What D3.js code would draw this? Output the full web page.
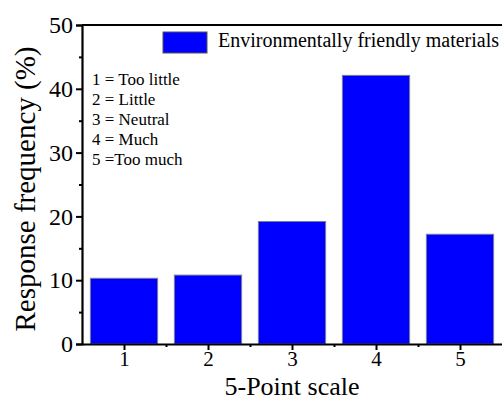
<!DOCTYPE html>
<meta charset="utf-8">
<script src="https://d3js.org/d3.v7.min.js"></script>
<style>
  body { margin: 0; background: #fff; }
  svg text { font-family: "Liberation Serif", Tinos, "DejaVu Serif", serif; fill: #000; }
</style>
<div id="my_dataviz"></div>
<script>

// data
var categories = [1, 2, 3, 4, 5];
var values = [10.3, 10.8, 19.2, 42.1, 17.2];
var yTicks = [0, 10, 20, 30, 40, 50];
var seriesName = "Environmentally friendly materials";
var notes = ["1 = Too little", "2 = Little", "3 = Neutral", "4 = Much", "5 =Too much"];

var serif = "'Liberation Serif', Tinos, 'DejaVu Serif', serif";

var margin = {top: 25, right: 0, bottom: 56, left: 82},
    width = 502 - margin.left - margin.right,
    height = 400 - margin.top - margin.bottom;

var svg = d3.select("#my_dataviz")
  .append("svg")
    .attr("width", 502)
    .attr("height", 400)
  .append("g")
    .attr("transform", "translate(" + margin.left + "," + margin.top + ")");

var x = d3.scaleLinear().domain([0.5, 5.5]).range([0, width]);
var y = d3.scaleLinear().domain([0, 50]).range([height, 0]);
var step = x(2) - x(1);
var barW = step * 0.8;

// bars
svg.selectAll("rect.bar")
  .data(values)
  .enter()
  .append("rect")
    .attr("class", "bar")
    .attr("x", function(d, i) { return x(categories[i]) - barW / 2; })
    .attr("y", function(d) { return y(d); })
    .attr("width", barW)
    .attr("height", function(d) { return height - y(d); })
    .attr("fill", "#0000ff")
    .attr("stroke", "#7a7a9a")
    .attr("stroke-width", 1);

// Y axis
var yAxis = svg.append("g")
  .call(d3.axisLeft(y).tickValues(yTicks).tickSize(6).tickPadding(3).tickFormat(d3.format("d")));
yAxis.attr("font-family", null);
yAxis.select(".domain").attr("stroke-width", 2.2);
yAxis.selectAll(".tick line").attr("stroke-width", 2);
yAxis.selectAll("text").style("font-size", "24px").style("font-family", serif);
svg.append("g")
  .call(d3.axisLeft(y).tickValues([5, 15, 25, 35, 45]).tickSize(3).tickFormat(""))
  .call(function(g) { g.select(".domain").remove(); g.selectAll("line").attr("stroke-width", 2); });

// X axis
var xAxis = svg.append("g")
  .attr("transform", "translate(0," + height + ")")
  .call(d3.axisBottom(x).tickValues(categories).tickSize(6).tickPadding(1).tickFormat(d3.format("d")).tickSizeOuter(0));
xAxis.attr("font-family", null);
xAxis.select(".domain").attr("stroke-width", 2.2);
xAxis.selectAll(".tick line").attr("stroke-width", 2);
xAxis.selectAll("text").style("font-size", "21px").style("font-family", serif);
svg.append("g")
  .attr("transform", "translate(0," + height + ")")
  .call(d3.axisBottom(x).tickValues([1.5, 2.5, 3.5, 4.5]).tickSize(3).tickFormat(""))
  .call(function(g) { g.select(".domain").remove(); g.selectAll("line").attr("stroke-width", 2); });

// top border
svg.append("line")
  .attr("x1", 0).attr("x2", width)
  .attr("y1", 0).attr("y2", 0)
  .attr("stroke", "#000").attr("stroke-width", 2.2);

// axis titles
svg.append("text")
  .attr("transform", "rotate(-90)")
  .attr("x", -164)
  .attr("y", -47)
  .attr("text-anchor", "middle")
  .style("font-size", "29px")
  .style("font-family", serif)
  .text("Response frequency (%)");

svg.append("text")
  .attr("x", width / 2)
  .attr("y", height + 51)
  .attr("text-anchor", "middle")
  .style("font-size", "26px")
  .style("font-family", serif)
  .text("5-Point scale");

// legend
svg.append("rect")
  .attr("x", 81).attr("y", 7)
  .attr("width", 44).attr("height", 21)
  .attr("fill", "#0000ff").attr("stroke", "#555").attr("stroke-width", 1);
svg.append("text")
  .attr("x", 136).attr("y", 22)
  .style("font-size", "20px")
  .style("font-family", serif)
  .text(seriesName);

// scale notes
svg.selectAll("text.note")
  .data(notes)
  .enter()
  .append("text")
    .attr("class", "note")
    .attr("x", 10)
    .attr("y", function(d, i) { return 60 + i * 20; })
    .style("font-size", "17px")
    .style("font-family", serif)
    .text(function(d) { return d; });

</script>
